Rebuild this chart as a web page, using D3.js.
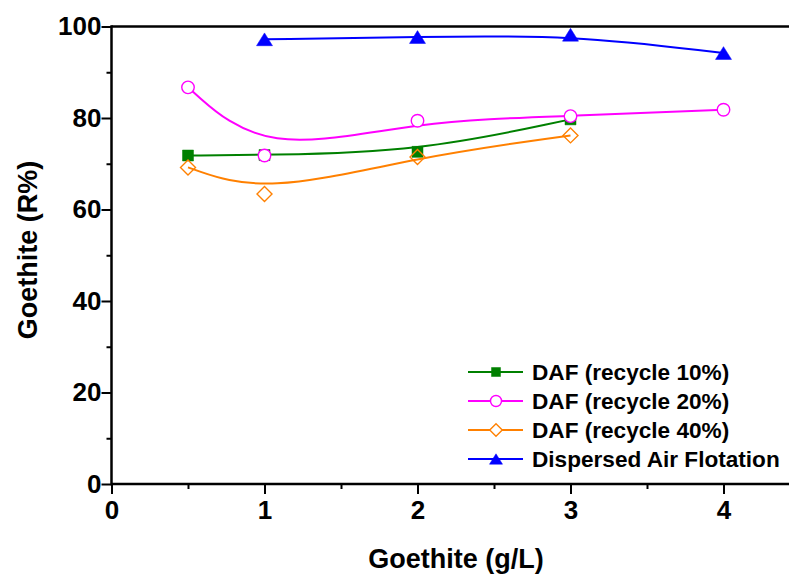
<!DOCTYPE html>
<html>
<head>
<meta charset="utf-8">
<script src="https://cdn.jsdelivr.net/npm/d3@7"></script>
<style>
  html, body { margin: 0; padding: 0; background: #fff; }
  svg { display: block; font-family: "Liberation Sans", Arial, sans-serif; font-weight: bold; }
</style>
</head>
<body>
<svg id="chart" width="789" height="574"></svg>
<script>
// Goethite concentration (g/L) for each run
const xDAF = [0.5, 1, 2, 3];
const xDAF20 = [0.5, 1, 2, 3, 4];
const xDispersed = [1, 2, 3, 4];

// Removal efficiency (R%)
const daf10 = [71.8, 71.9, 72.6, 79.7];
const daf20 = [86.7, 71.8, 79.4, 80.4, 81.8];
const daf40 = [69.2, 63.4, 71.5, 76.2];
const dispersed = [97.2, 97.7, 98.2, 94.2];

const seriesNames = ["DAF (recycle 10%)", "DAF (recycle 20%)", "DAF (recycle 40%)", "Dispersed Air Flotation"];
const seriesColors = ["#008000", "#ff00ff", "#ff8000", "#0000ff"];
const seriesMarkers = ["square", "circle", "diamond", "triangle"];

const xTicks = [0, 1, 2, 3, 4];
const yTicks = [0, 20, 40, 60, 80, 100];

const svg = d3.select("#chart");

const x = d3.scaleLinear().domain([0, 4.5]).range([111.5, 111.5 + 4.5 * 153]);
const y = d3.scaleLinear().domain([0, 100]).range([484, 26.5]);

// marker path generator, s = nominal size in px
function markerPath(type, s) {
  const h = s / 2;
  switch (type) {
    case "square": return `M${-h},${-h}H${h}V${h}H${-h}Z`;
    case "diamond": return `M0,${-h}L${h},0L0,${h}L${-h},0Z`;
    case "triangle": {
      const th = s * 0.8;
      return `M0,${-th / 2}L${h},${th / 2}L${-h},${th / 2}Z`;
    }
    default: {
      const r = h;
      return `M${r},0A${r},${r} 0 1,1 ${-r},0A${r},${r} 0 1,1 ${r},0Z`;
    }
  }
}

const series = [
  { xs: xDAF, ys: daf10 },
  { xs: xDAF20, ys: daf20 },
  { xs: xDAF, ys: daf40 },
  { xs: xDispersed, ys: dispersed }
].map((d, i) => ({
  name: seriesNames[i],
  color: seriesColors[i],
  marker: seriesMarkers[i],
  points: d.xs.map((xv, j) => ({ x: xv, y: d.ys[j] }))
}));

const plotSize = { square: 11, circle: 12.5, diamond: 15, triangle: 16 };
const legendSize = { square: 9, circle: 11, diamond: 12.5, triangle: 13 };

// smoothed curves and markers
const line = d3.line().x(d => x(d.x)).y(d => y(d.y)).curve(d3.curveBasis);

series.forEach(s => {
  const g = svg.append("g");
  g.append("path")
    .attr("d", line(s.points))
    .attr("fill", "none")
    .attr("stroke", s.color)
    .attr("stroke-width", 2);
  g.selectAll("path.m")
    .data(s.points)
    .join("path")
    .attr("class", "m")
    .attr("transform", d => `translate(${x(d.x)},${y(d.y)})`)
    .attr("d", markerPath(s.marker, plotSize[s.marker]))
    .attr("fill", s.marker === "square" || s.marker === "triangle" ? s.color
          : (s.marker === "circle" ? "#fff" : "none"))
    .attr("stroke", s.color)
    .attr("stroke-width", s.marker === "square" || s.marker === "triangle" ? 0.5 : 1.4);
});

// axes
const xAxis = d3.axisBottom(x).tickValues(xTicks).tickFormat(d3.format("d"))
  .tickSize(10).tickPadding(7);
const xMinor = d3.axisBottom(x).tickValues([0.5, 1.5, 2.5, 3.5, 4.5]).tickFormat("").tickSize(5);
const yAxis = d3.axisLeft(y).tickValues(yTicks).tickFormat(d3.format("d"))
  .tickSize(10).tickPadding(0);
const yMinor = d3.axisLeft(y).tickValues([10, 30, 50, 70, 90]).tickFormat("").tickSize(5);

function styleAxis(g) {
  g.select(".domain").attr("stroke", "#000").attr("stroke-width", 2.5);
  g.selectAll(".tick line").attr("stroke", "#000").attr("stroke-width", 2);
  g.selectAll(".tick text").attr("fill", "#000")
    .style("font-size", "26px").style("font-weight", "bold")
    .style("font-family", '"Liberation Sans", Arial, sans-serif');
}

svg.append("g").attr("transform", `translate(0,${y(0)})`).call(xMinor).call(styleAxis);
svg.append("g").attr("transform", `translate(0,${y(0)})`).call(xAxis).call(styleAxis);
svg.append("g").attr("transform", `translate(${x(0)},0)`).call(yMinor).call(styleAxis);
svg.append("g").attr("transform", `translate(${x(0)},0)`).call(yAxis).call(styleAxis);
svg.selectAll(".domain").attr("d", null);

// frame lines
svg.append("line").attr("x1", x(0)).attr("x2", 789).attr("y1", y(0)).attr("y2", y(0))
  .attr("stroke", "#000").attr("stroke-width", 2.5);
svg.append("line").attr("x1", x(0)).attr("x2", 789).attr("y1", y(100)).attr("y2", y(100))
  .attr("stroke", "#000").attr("stroke-width", 2.5);
svg.append("line").attr("x1", x(0)).attr("x2", x(0)).attr("y1", y(100) - 1.25).attr("y2", y(0) + 1.25)
  .attr("stroke", "#000").attr("stroke-width", 2.5);

// axis titles
svg.append("text")
  .attr("x", 456).attr("y", 568)
  .attr("text-anchor", "middle")
  .style("font-size", "27px")
  .text("Goethite (g/L)");

svg.append("text")
  .attr("transform", "translate(37,250) rotate(-90)")
  .attr("text-anchor", "middle")
  .style("font-size", "27px")
  .text("Goethite (R%)");

// legend
const legend = svg.append("g");
series.forEach((s, i) => {
  const ly = 372 + i * 29;
  const row = legend.append("g").attr("transform", `translate(0,${ly})`);
  row.append("line").attr("x1", 468).attr("x2", 523).attr("y1", 0).attr("y2", 0)
    .attr("stroke", s.color).attr("stroke-width", 2);
  row.append("path")
    .attr("transform", "translate(496,0)")
    .attr("d", markerPath(s.marker, legendSize[s.marker]))
    .attr("fill", s.marker === "square" || s.marker === "triangle" ? s.color : "#fff")
    .attr("stroke", s.color)
    .attr("stroke-width", s.marker === "square" || s.marker === "triangle" ? 0.5 : 1.4);
  row.append("text")
    .attr("x", 532).attr("y", 8)
    .style("font-size", "22.6px")
    .text(s.name);
});
</script>
</body>
</html>
